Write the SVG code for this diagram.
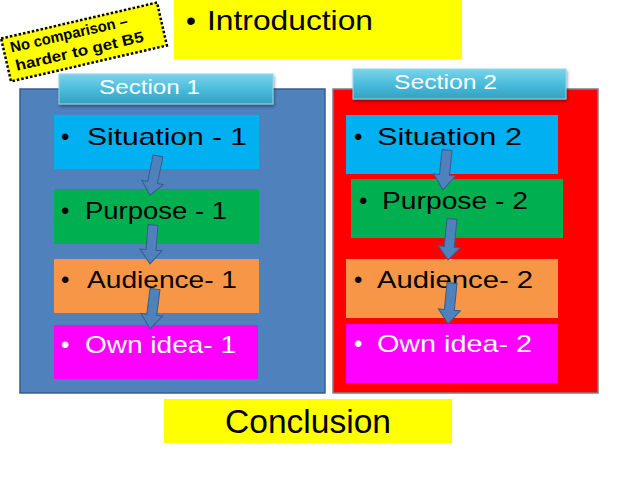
<svg xmlns="http://www.w3.org/2000/svg" width="638" height="479" viewBox="0 0 638 479">
<style>
  text { font-family: "Liberation Sans", "DejaVu Sans", sans-serif; }
  .lbl { font-size: 24px; fill: #000; }
  .wlbl { font-size: 24px; fill: #fff; }
  .tab { font-size: 20px; fill: #fff; }
  .arrow { fill: #4f81bd; stroke: #385d8a; stroke-width: 1; }
</style>
<defs>
  <linearGradient id="tabg" x1="0" y1="0" x2="0" y2="1">
    <stop offset="0" stop-color="#7dd3ea"/>
    <stop offset="0.5" stop-color="#4bbcdc"/>
    <stop offset="1" stop-color="#35a0c0"/>
  </linearGradient>
  <filter id="sh" x="-10%" y="-20%" width="120%" height="150%">
    <feDropShadow dx="1" dy="2" stdDeviation="1.5" flood-color="#000" flood-opacity="0.4"/>
  </filter>
</defs>
<rect width="638" height="479" fill="#fff"/>

<g id="introduction">
  <rect x="174" y="0" width="288" height="59" fill="#ffff00"/>
  <text x="186" y="30" font-size="28">•</text>
  <text x="207" y="30" font-size="28" textLength="166" lengthAdjust="spacingAndGlyphs">Introduction</text>
</g>

<g id="note" transform="translate(84,42) rotate(-13)">
  <rect x="-80" y="-22" width="160" height="44" fill="#ffff00" stroke="#000" stroke-width="2.5" stroke-dasharray="2.5 2"/>
  <text x="-73" y="-6" font-size="15" font-weight="bold" textLength="120" lengthAdjust="spacingAndGlyphs">No comparison –</text>
  <text x="-72" y="13" font-size="15" font-weight="bold" textLength="131" lengthAdjust="spacingAndGlyphs">harder to get B5</text>
</g>

<g id="section1-panel">
  <rect x="20" y="89" width="305" height="304" fill="#4f81bd" stroke="#385d8a" stroke-width="1.5"/>
</g>
<g id="section2-panel">
  <rect x="333" y="89" width="265" height="304" fill="#ff0000" stroke="#7f7f7f" stroke-width="1.5"/>
</g>

<g id="section1-tab">
  <rect x="59" y="74" width="214" height="30" fill="url(#tabg)" stroke="#8fd8ec" stroke-width="1" filter="url(#sh)"/>
  <text class="tab" x="99" y="94" textLength="101" lengthAdjust="spacingAndGlyphs">Section 1</text>
</g>
<g id="section2-tab">
  <rect x="353" y="69" width="213" height="30" fill="url(#tabg)" stroke="#8fd8ec" stroke-width="1" filter="url(#sh)"/>
  <text class="tab" x="394" y="89" textLength="103" lengthAdjust="spacingAndGlyphs">Section 2</text>
</g>

<g id="situation1">
  <rect x="54" y="115" width="205" height="54" fill="#00b0f0"/>
  <text class="lbl" x="61" y="145">•</text>
  <text class="lbl" x="87" y="145" textLength="160" lengthAdjust="spacingAndGlyphs">Situation - 1</text>
</g>
<g id="purpose1">
  <rect x="54" y="189" width="205" height="55" fill="#00b050"/>
  <text class="lbl" x="61" y="219">•</text>
  <text class="lbl" x="85" y="219" textLength="142" lengthAdjust="spacingAndGlyphs">Purpose - 1</text>
</g>
<g id="audience1">
  <rect x="54" y="259" width="205" height="54" fill="#f79646"/>
  <text class="lbl" x="61" y="288">•</text>
  <text class="lbl" x="87" y="288" textLength="150" lengthAdjust="spacingAndGlyphs">Audience- 1</text>
</g>
<g id="ownidea1">
  <rect x="54" y="325" width="204" height="54" fill="#ff00ff"/>
  <text class="wlbl" x="61" y="353">•</text>
  <text class="wlbl" x="85" y="353" textLength="151" lengthAdjust="spacingAndGlyphs">Own idea- 1</text>
</g>

<g id="situation2">
  <rect x="346" y="115" width="212" height="59" fill="#00b0f0"/>
  <text class="lbl" x="354" y="145">•</text>
  <text class="lbl" x="377" y="145" textLength="145" lengthAdjust="spacingAndGlyphs">Situation 2</text>
</g>
<g id="purpose2">
  <rect x="351" y="179" width="212" height="59" fill="#00b050"/>
  <text class="lbl" x="359" y="209">•</text>
  <text class="lbl" x="382" y="209" textLength="146" lengthAdjust="spacingAndGlyphs">Purpose - 2</text>
</g>
<g id="audience2">
  <rect x="346" y="259" width="212" height="59" fill="#f79646"/>
  <text class="lbl" x="354" y="288">•</text>
  <text class="lbl" x="377" y="288" textLength="156" lengthAdjust="spacingAndGlyphs">Audience- 2</text>
</g>
<g id="ownidea2">
  <rect x="346" y="324" width="212" height="59" fill="#ff00ff"/>
  <text class="wlbl" x="354" y="352">•</text>
  <text class="wlbl" x="377" y="352" textLength="155" lengthAdjust="spacingAndGlyphs">Own idea- 2</text>
</g>

<g id="conclusion">
  <rect x="164" y="399" width="288" height="44" fill="#ffff00"/>
  <text x="225" y="433" font-size="34" textLength="166" lengthAdjust="spacingAndGlyphs">Conclusion</text>
</g>

<g id="connectors">
  <path class="arrow" transform="translate(158,156) rotate(11.6)" d="M -5,0 L 5,0 L 5,27 L 11,27 L 0,40 L -11,27 L -5,27 Z"/>
  <path class="arrow" transform="translate(153,225) rotate(4.4)" d="M -5,0 L 5,0 L 5,25 L 11,25 L 0,39 L -11,25 L -5,25 Z"/>
  <path class="arrow" transform="translate(155,289) rotate(7.1)" d="M -5,0 L 5,0 L 5,26 L 11,26 L 0,40 L -11,26 L -5,26 Z"/>
  <path class="arrow" transform="translate(447,150) rotate(5.7)" d="M -5,0 L 5,0 L 5,25 L 11,25 L 0,40 L -11,25 L -5,25 Z"/>
  <path class="arrow" transform="translate(452,219) rotate(5.6)" d="M -5,0 L 5,0 L 5,28 L 11,28 L 0,41 L -11,28 L -5,28 Z"/>
  <path class="arrow" transform="translate(452,283) rotate(5.6)" d="M -5,0 L 5,0 L 5,27 L 11,27 L 0,41 L -11,27 L -5,27 Z"/>
</g>
</svg>
